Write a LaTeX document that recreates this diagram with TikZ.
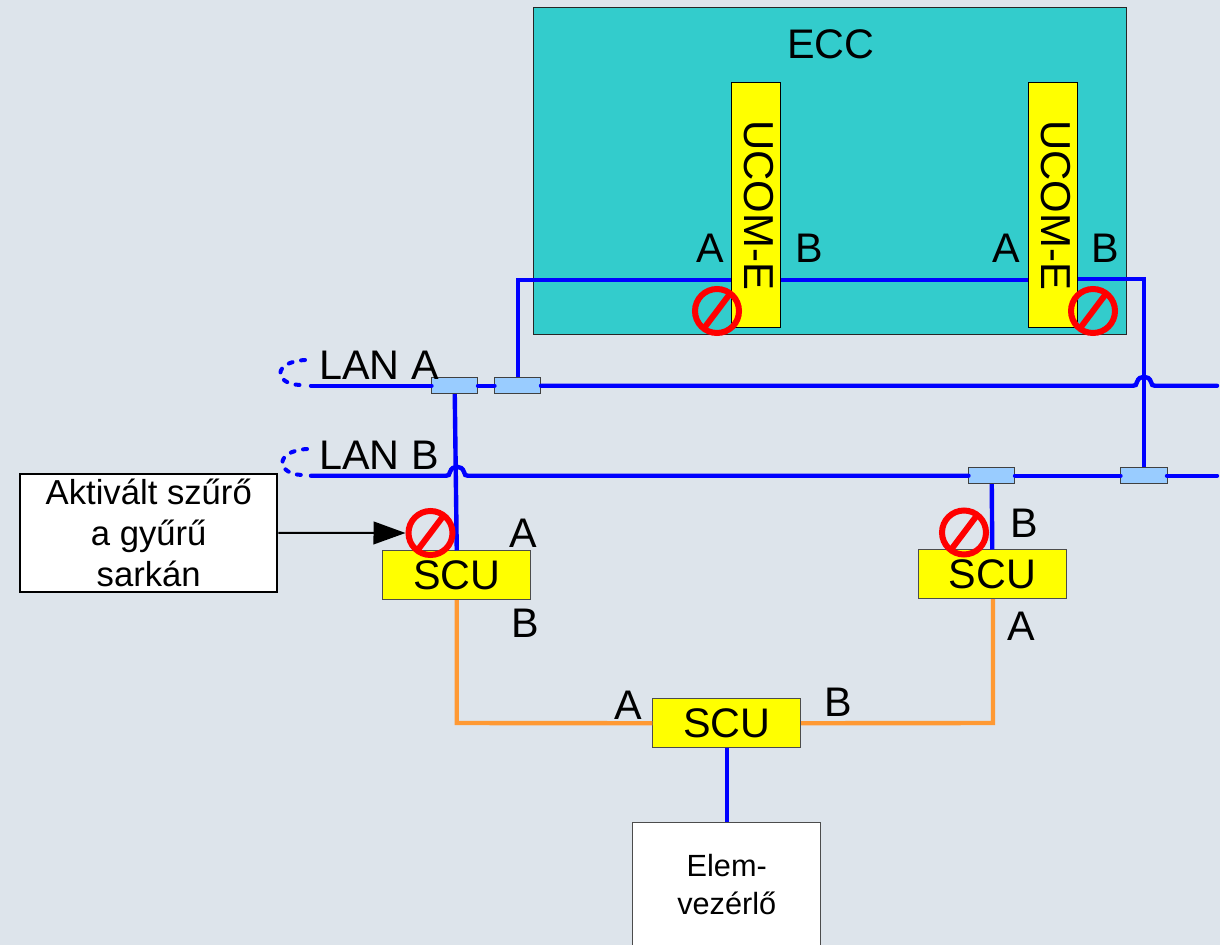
\documentclass[tikz,border=0pt]{standalone}
\usepackage{fontspec}
\setmainfont{Liberation Sans}
\usepackage{tikz}
\usetikzlibrary{arrows.meta}
\usetikzlibrary{calc}

\definecolor{lapszin}{RGB}{221,228,235}
\definecolor{eccszin}{RGB}{51,204,204}
\definecolor{tapszin}{RGB}{153,204,255}
\definecolor{lanszin}{RGB}{0,0,255}
\definecolor{gyuruszin}{RGB}{255,153,51}
\definecolor{sarga}{RGB}{255,255,0}

\begin{document}
\begin{tikzpicture}[x=0.75pt, y=-0.75pt,
                    ecc node/.style={draw=black!85,fill=eccszin,minimum width=444.75pt,minimum height=245.25pt,inner sep=0pt},
                    ucom node/.style={draw=black,fill=sarga,minimum width=36.75pt,minimum height=183.75pt,inner sep=0pt,font=\fontsize{31.4}{36}\selectfont},
                    scu node/.style={draw=black!70,fill=sarga,minimum width=111pt,minimum height=36.75pt,inner sep=0pt,font=\fontsize{31}{36}\selectfont},
                    tap node/.style={draw=black!75,fill=tapszin,minimum width=34.5pt,minimum height=12pt,inner sep=0pt},
                    tilos node/.style={circle,draw=red,line width=4.5pt,minimum size=33pt,inner sep=0pt,
                      path picture={\draw[red,line width=4.5pt] (path picture bounding box.center) +(53:18pt) -- +(233:18pt);}},
                    label node/.style={inner sep=0pt,font=\fontsize{31}{36}\selectfont},
                    text box/.style={draw=black,fill=white,line width=1.5pt,minimum width=192.75pt,minimum height=88.5pt,inner sep=0pt,align=center,font=\fontsize{26}{30.5}\selectfont},
                    elem node/.style={draw=black!70,fill=white,minimum width=141pt,minimum height=93pt,inner sep=0pt,align=center,font=\fontsize{23}{28.5}\selectfont},
                    lan/.style={draw=lanszin,line width=3.3pt,line cap=round},
                    lan loop/.style={draw=lanszin,line width=3pt,line cap=round,dash pattern=on 3pt off 6.5pt},
                    ring/.style={draw=gyuruszin,line width=3.3pt}]

  \useasboundingbox (0,0) rectangle (1220,945);
  \clip (0,0) rectangle (1220,945);
  \fill[lapszin] (0,0) rectangle (1220,945);

  \node[ecc node] (ecc) at (830.25,171.25) {};
  \node[label node] (ecctext) at (831,44.5) {ECC};
  \node[ucom node] (ucom1) at (756.25,205.25) {\rotatebox[origin=c]{-90}{\raisebox{4.5pt}{UCOM-E}}};
  \node[ucom node] (ucom2) at (1053.25,205.25) {\rotatebox[origin=c]{-90}{\raisebox{4.5pt}{UCOM-E}}};

  \node[tap node] (tapa1) at (454.75,385.75) {};
  \node[tap node] (tapa2) at (517.75,385.75) {};
  \node[tap node] (tapb1) at (991.75,475.75) {};
  \node[tap node] (tapb2) at (1143.75,475.75) {};

  \node[scu node] (scu1) at (456.75,575.25) {\raisebox{1pt}{SCU}};
  \node[scu node] (scu2) at (992.25,574.25) {\raisebox{1pt}{SCU}};
  \node[scu node] (scu3) at (726.75,723.25) {\raisebox{1pt}{SCU}};
  \node[elem node] (elem) at (726.75,884.75) {Elem-\\vezérlő};
  \node[text box] (szuro) at (148.75,532.75) {Aktivált szűrő\\a gyűrű\\sarkán};

  \coordinate (lanastart) at (311,385.75);
  \coordinate (lanaend) at (1217,385.75);
  \coordinate (lanbstart) at (311,475.75);
  \coordinate (lanbend) at (1217,475.75);
  \coordinate (ecca) at (517.75,280);
  \coordinate (eccb) at (1143.75,279);
  \coordinate (ringb) at (456.75,723);
  \coordinate (ringa) at (993,723);

  \draw[lan] (lanastart) -- (tapa1.west);
  \draw[lan] (tapa1.east) -- (tapa2.west);
  \draw[lan] (tapa2.east) -- (1133,385.75) .. controls (1136,385.75) and (1136,385) .. (1137,382)
    .. controls (1138,378.5) and (1141,376.7) .. (1144,376.7)
    .. controls (1147,376.7) and (1150,378.5) .. (1151,382)
    .. controls (1152,385) and (1152,385.75) .. (1155,385.75) -- (lanaend);
  \draw[lan] (lanbstart) -- (446,475.75) .. controls (449,475.75) and (449,475) .. (450,472)
    .. controls (451,468.5) and (454,466.7) .. (457,466.7)
    .. controls (460,466.7) and (463,468.5) .. (464,472)
    .. controls (465,475) and (465,475.75) .. (468,475.75) -- (tapb1.west);
  \draw[lan] (tapb1.east) -- (tapb2.west);
  \draw[lan] (tapb2.east) -- (lanbend);

  \draw[lan,line cap=butt] (tapa2.north) -- (ecca) -- (ecca -| ucom1.west);
  \draw[lan,line cap=butt] (ecca -| ucom1.east) -- (ecca -| ucom2.west);
  \draw[lan,line cap=butt] (eccb -| ucom2.east) -- (eccb) -- (tapb2.north);
  \draw[lan,line cap=butt] (tapa1.south) -- (scu1.north);
  \draw[lan,line cap=butt] (tapb1.south) -- (scu2.north);
  \draw[lan,line cap=butt] (scu3.south) -- (elem.north);

  \draw[ring] (scu1.south) -- (ringb) -- (scu3.west);
  \draw[ring] (scu3.east) -- (ringa) -- (ringa |- scu2.south);

  \coordinate (loopa1) at (305,360);
  \coordinate (loopa2) at (300,385);
  \coordinate (loopb1) at (307,449);
  \coordinate (loopb2) at (302,475);
  \draw[lan loop] (loopa1) .. controls (272,362) and (274,384) .. (loopa2);
  \draw[lan loop] (loopb1) .. controls (274,451) and (276,474) .. (loopb2);

  \node[label node] (lana) at (379,365.5) {LAN A};
  \node[label node] (lanb) at (379,455.5) {LAN B};

  \node[label node] (ucom1a) at (710.5,248.5) {A};
  \node[label node] (ucom1b) at (809.5,248.5) {B};
  \node[label node] (ucom2a) at (1006.5,248.5) {A};
  \node[label node] (ucom2b) at (1105.5,248.5) {B};
  \node[label node] (scu1a) at (523.5,533.5) {A};
  \node[label node] (scu1b) at (525.5,623.5) {B};
  \node[label node] (scu2b) at (1024.5,523.5) {B};
  \node[label node] (scu2a) at (1021.5,626.5) {A};
  \node[label node] (scu3a) at (628.5,705.5) {A};
  \node[label node] (scu3b) at (838.5,702.5) {B};

  \node[tilos node] (tilos1) at (717,311) {};
  \node[tilos node] (tilos2) at (1093,311) {};
  \node[tilos node] (tilos3) at (430.5,533) {};
  \node[tilos node] (tilos4) at (964,532.5) {};

  \draw[black,line width=1.5pt,-{Triangle[length=24pt,width=17pt]}] (szuro.east) -- (tilos3.west);

\end{tikzpicture}
\end{document}
